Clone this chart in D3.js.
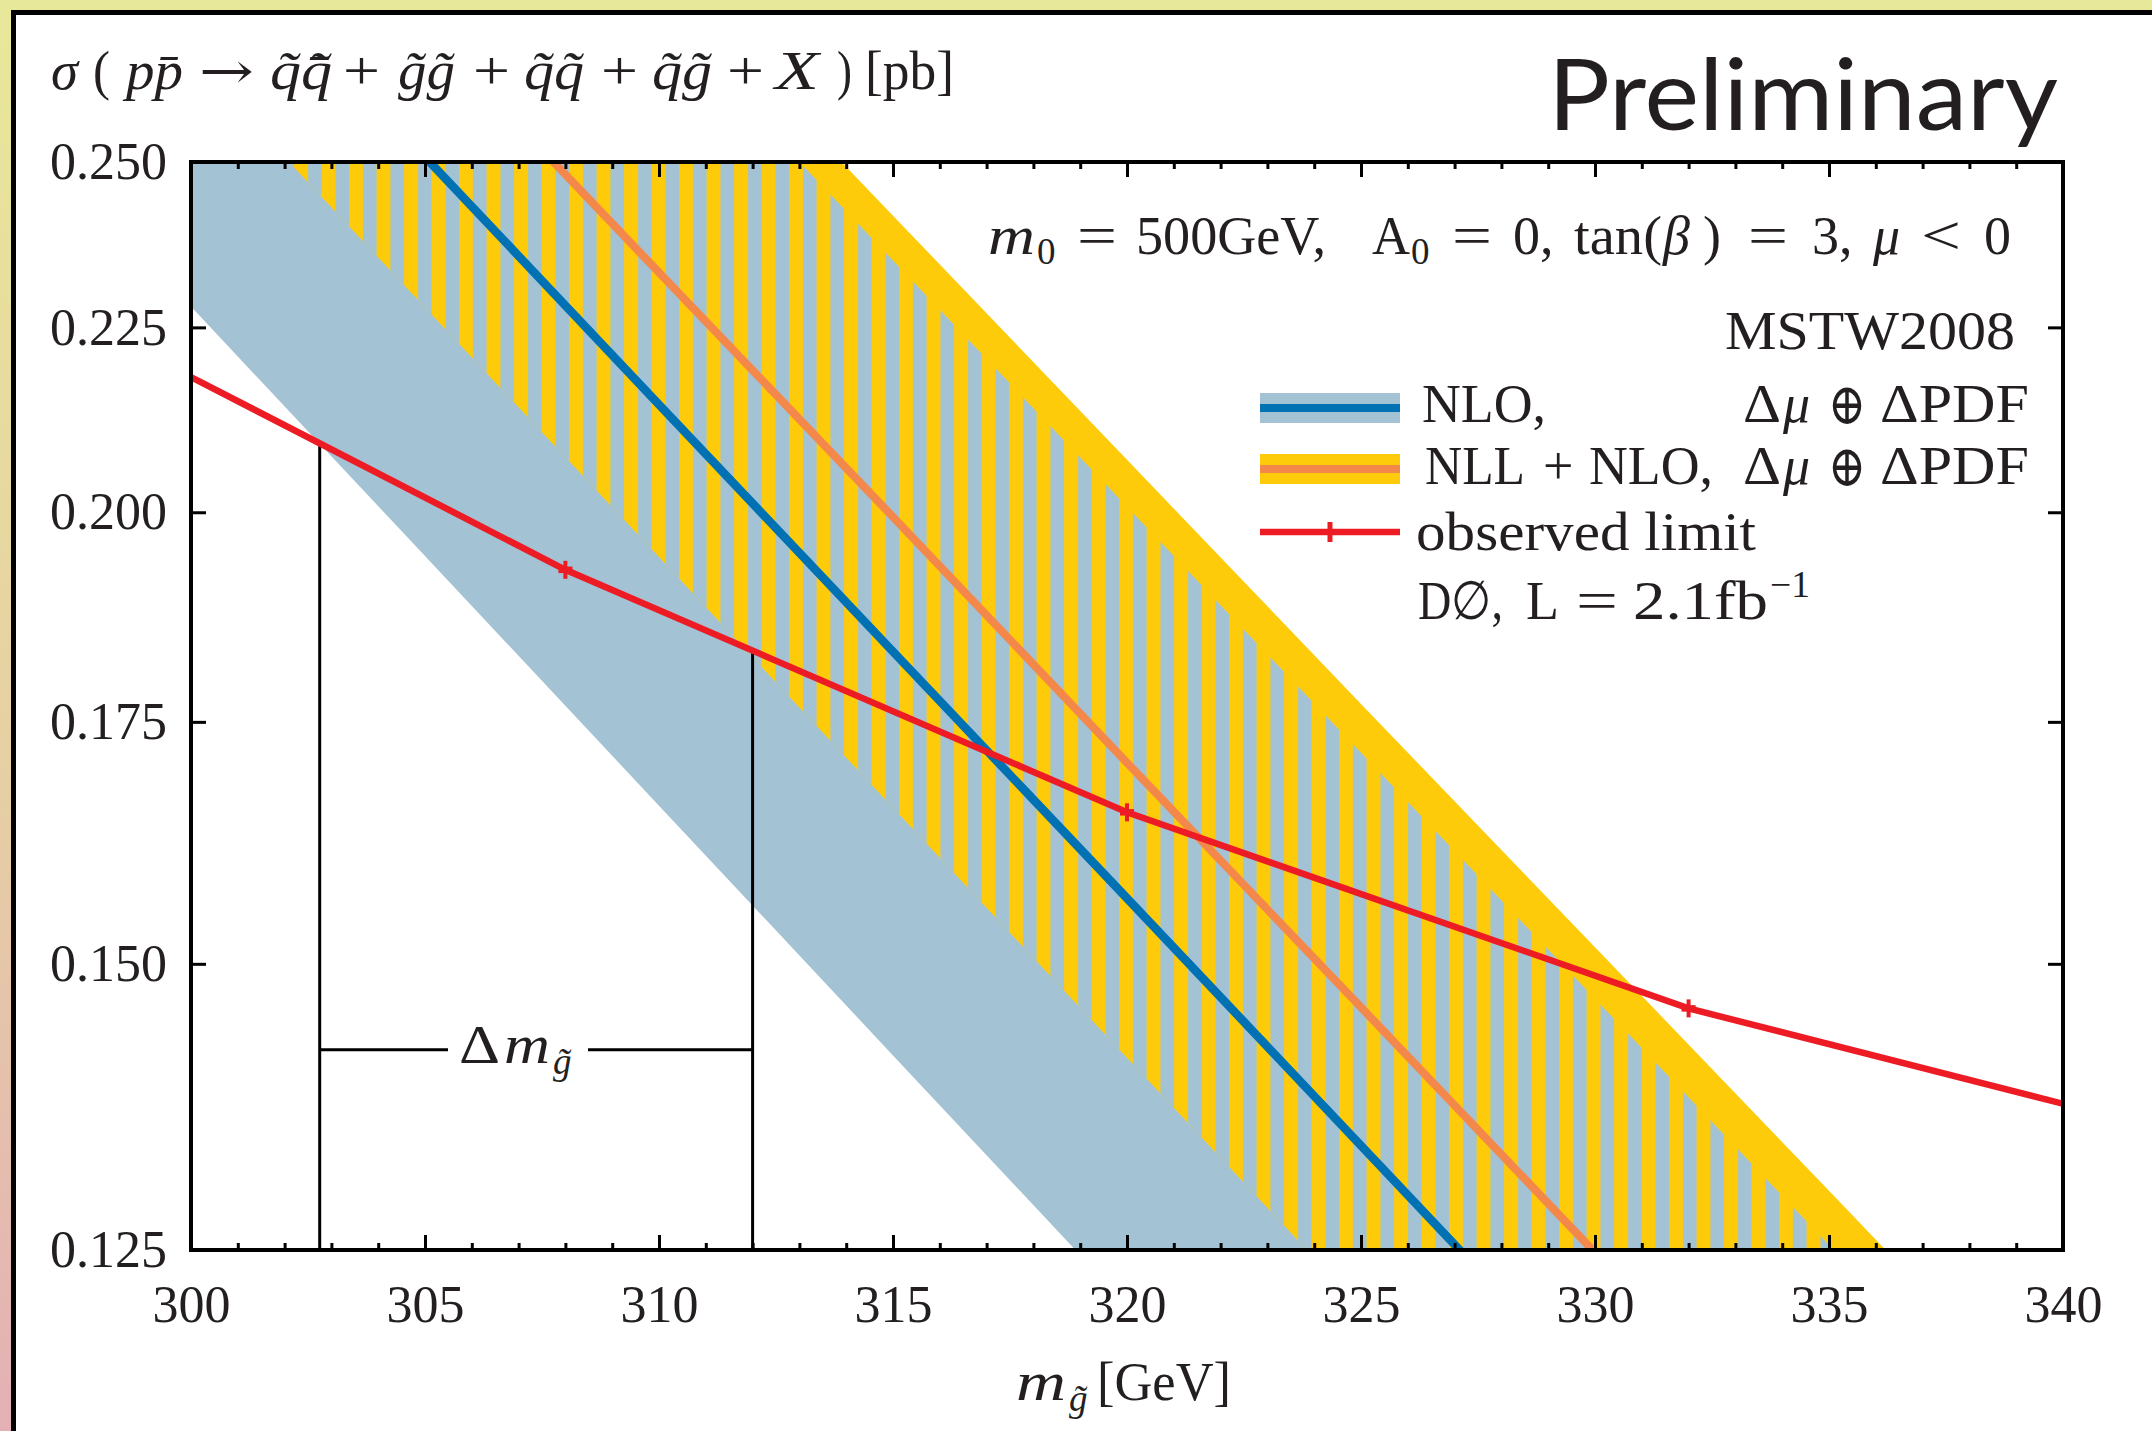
<!DOCTYPE html>
<html>
<head>
<meta charset="utf-8">
<script src="https://cdn.jsdelivr.net/npm/d3@7"></script>
<style>
  html, body { margin: 0; padding: 0; background: #fff; }
  svg { display: block; }
  text { font-family: "Liberation Serif", "DejaVu Serif", serif; fill: #231f20; }
</style>
</head>
<body>
<svg id="chart" width="2152" height="1431"></svg>
<script>
// ---------------- data ----------------
const masses      = [295, 300, 305, 310, 315, 320, 325, 330, 335, 340];
const nloLow      = [0.2673, 0.2280, 0.1945, 0.1659, 0.1415, 0.1207, 0.1029, 0.0878, 0.0749, 0.0639];
const nloCentral  = [0.3437, 0.2936, 0.2508, 0.2142, 0.1830, 0.1564, 0.1336, 0.1141, 0.0975, 0.0833];
const nloHigh     = [0.4397, 0.3759, 0.3213, 0.2747, 0.2348, 0.2007, 0.1716, 0.1467, 0.1254, 0.1072];
const nllLow      = [0.3135, 0.2673, 0.2279, 0.1944, 0.1657, 0.1413, 0.1205, 0.1027, 0.0876, 0.0747];
const nllCentral  = [0.3723, 0.3184, 0.2724, 0.2330, 0.1994, 0.1705, 0.1459, 0.1248, 0.1068, 0.0913];
const nllHigh     = [0.4498, 0.3851, 0.3297, 0.2822, 0.2416, 0.2068, 0.1770, 0.1516, 0.1298, 0.1111];

const limitMass   = [296, 308, 320, 332, 344];
const limitXsec   = [0.2318, 0.1928, 0.1652, 0.1458, 0.1331];

const deltaMass   = [302.75, 312.0];
const deltaTop    = [0.2090, 0.1831];
const deltaLevel  = 0.142;

const xMajorTicks = [300, 305, 310, 315, 320, 325, 330, 335, 340];
const xTickLabels = ["300", "305", "310", "315", "320", "325", "330", "335", "340"];
const xMinorTicks = d3.range(300, 341, 1);
const yTicks      = [0.125, 0.150, 0.175, 0.200, 0.225, 0.250];
const yTickLabels = ["0.125", "0.150", "0.175", "0.200", "0.225", "0.250"];

// ---------------- layout ----------------
const W = 2152, H = 1431;
const L = 191, R = 2063, T = 162, B = 1250;
const FS = 54;
const C = {
  nloBand: "#a3c2d3", nloLine: "#0072b4",
  nllBand: "#fecb0a", nllLine: "#f4874a",
  limit: "#ed1c24", ink: "#231f20"
};

const svg = d3.select("#chart");
const defs = svg.append("defs");

const grad = defs.append("linearGradient").attr("id", "frameGrad")
  .attr("x1", 0).attr("y1", 0).attr("x2", 0).attr("y2", 1);
grad.append("stop").attr("offset", "0%").attr("stop-color", "#e8e89a");
grad.append("stop").attr("offset", "55%").attr("stop-color", "#e6cfa4");
grad.append("stop").attr("offset", "100%").attr("stop-color", "#e4b0b5");

defs.append("clipPath").attr("id", "plotClip")
  .append("rect").attr("x", L).attr("y", T).attr("width", R - L).attr("height", B - T);

const pat = defs.append("pattern").attr("id", "stripes")
  .attr("patternUnits", "userSpaceOnUse")
  .attr("x", 211.6).attr("y", 0).attr("width", 27.5).attr("height", 100);
pat.append("rect").attr("width", 27.5).attr("height", 100).attr("fill", C.nloBand);
pat.append("rect").attr("width", 13.9).attr("height", 100).attr("fill", C.nllBand);

// slide frame
svg.append("rect").attr("width", W).attr("height", H).attr("fill", "#fff");
svg.append("rect").attr("x", 0).attr("y", 0).attr("width", W).attr("height", 10).attr("fill", "#e8e89a");
svg.append("rect").attr("x", 0).attr("y", 0).attr("width", 11).attr("height", H).attr("fill", "url(#frameGrad)");
svg.append("rect").attr("x", 11).attr("y", 10).attr("width", W - 11).attr("height", 5).attr("fill", "#000");
svg.append("rect").attr("x", 11).attr("y", 10).attr("width", 5).attr("height", H - 10).attr("fill", "#000");

// scales
const x = d3.scaleLinear().domain([300, 340]).range([L, R]);
const y = d3.scaleLog().domain([0.125, 0.25]).range([B, T]);

const rows = masses.map((m, i) => ({
  m, nloLow: nloLow[i], nloCentral: nloCentral[i], nloHigh: nloHigh[i],
  nllLow: nllLow[i], nllCentral: nllCentral[i], nllHigh: nllHigh[i]
}));

const plot = svg.append("g").attr("clip-path", "url(#plotClip)");

const area = (lo, hi) => d3.area().x(d => x(d.m)).y0(d => y(d[lo])).y1(d => y(d[hi]));
const line = key => d3.line().x(d => x(d.m)).y(d => y(d[key]));

plot.append("path").datum(rows).attr("d", area("nloLow", "nloHigh")).attr("fill", C.nloBand);
plot.append("path").datum(rows).attr("d", area("nllLow", "nllHigh")).attr("fill", C.nllBand);
// overlap of both bands: vertical stripes
plot.append("path").datum(rows).attr("d", area("nllLow", "nloHigh")).attr("fill", "url(#stripes)");

plot.append("path").datum(rows).attr("d", line("nloCentral"))
  .attr("fill", "none").attr("stroke", C.nloLine).attr("stroke-width", 8.5);
plot.append("path").datum(rows).attr("d", line("nllCentral"))
  .attr("fill", "none").attr("stroke", C.nllLine).attr("stroke-width", 8);

// ---------- text helper ----------
function txt(parent, t, px, py, o = {}) {
  const e = parent.append("text").attr("x", px).attr("y", py)
    .attr("font-size", o.size || FS).text(t);
  if (o.italic) e.attr("font-style", "italic");
  if (o.anchor) e.attr("text-anchor", o.anchor);
  if (o.w) e.attr("textLength", o.w).attr("lengthAdjust", "spacingAndGlyphs");
  if (o.font) e.style("font-family", o.font);
  if (o.fill) e.attr("fill", o.fill);
  return e;
}

// delta m construction
deltaMass.forEach((m, i) => {
  plot.append("line").attr("x1", x(m)).attr("x2", x(m))
    .attr("y1", y(0.125)).attr("y2", y(deltaTop[i]))
    .attr("stroke", "#000").attr("stroke-width", 3);
});
const gapL = 448, gapR = 588;
plot.append("line").attr("x1", x(deltaMass[0])).attr("x2", gapL)
  .attr("y1", y(deltaLevel)).attr("y2", y(deltaLevel)).attr("stroke", "#000").attr("stroke-width", 3);
plot.append("line").attr("x1", gapR).attr("x2", x(deltaMass[1]))
  .attr("y1", y(deltaLevel)).attr("y2", y(deltaLevel)).attr("stroke", "#000").attr("stroke-width", 3);

const yl = y(deltaLevel);
txt(svg, "Δ", 459, yl + 13, { w: 41 });
txt(svg, "m", 504, yl + 13, { italic: true, w: 46 });
txt(svg, "g\u0303", 553, yl + 24, { italic: true, size: 37 });

// observed limit
const lim = limitMass.map((m, i) => ({ m, v: limitXsec[i] }));
plot.append("path").datum(lim)
  .attr("d", d3.line().x(d => x(d.m)).y(d => y(d.v)))
  .attr("fill", "none").attr("stroke", C.limit).attr("stroke-width", 6.5);
const mk = plot.selectAll("g.mk").data(lim).join("g")
  .attr("transform", d => `translate(${x(d.m)},${y(d.v)})`);
mk.append("line").attr("x1", 0).attr("x2", 0).attr("y1", -9).attr("y2", 9)
  .attr("stroke", C.limit).attr("stroke-width", 4);
mk.append("line").attr("x1", -7).attr("x2", 7).attr("y1", 0).attr("y2", 0)
  .attr("stroke", C.limit).attr("stroke-width", 6.5);

// axes
function styleAxis(g) {
  g.select(".domain").remove();
  g.selectAll(".tick line").attr("stroke", "#000").attr("stroke-width", 3);
  g.selectAll(".tick text").attr("font-size", 52).attr("fill", C.ink)
    .attr("font-family", "Liberation Serif, DejaVu Serif, serif");
}
svg.append("g").attr("transform", `translate(0,${B})`)
  .call(d3.axisBottom(x).tickValues(xMinorTicks).tickSize(-7).tickFormat(""))
  .call(styleAxis);
svg.append("g").attr("transform", `translate(0,${T})`)
  .call(d3.axisTop(x).tickValues(xMinorTicks).tickSize(-7).tickFormat(""))
  .call(styleAxis);
svg.append("g").attr("transform", `translate(0,${B})`)
  .call(d3.axisBottom(x).tickValues(xMajorTicks).tickSize(-15).tickPadding(35)
    .tickFormat((d, i) => xTickLabels[i]))
  .call(styleAxis);
svg.append("g").attr("transform", `translate(0,${T})`)
  .call(d3.axisTop(x).tickValues(xMajorTicks).tickSize(-15).tickFormat(""))
  .call(styleAxis);
svg.append("g").attr("transform", `translate(${L},0)`)
  .call(d3.axisLeft(y).tickValues(yTicks).tickSize(-15).tickPadding(24)
    .tickFormat((d, i) => yTickLabels[i]))
  .call(styleAxis);
svg.append("g").attr("transform", `translate(${R},0)`)
  .call(d3.axisRight(y).tickValues(yTicks).tickSize(-15).tickFormat(""))
  .call(styleAxis);

svg.append("rect").attr("x", L).attr("y", T).attr("width", R - L).attr("height", B - T)
  .attr("fill", "none").attr("stroke", "#000").attr("stroke-width", 4);

// y-axis title (top left)
const ty = 89;
txt(svg, "σ", 51, ty, { italic: true, w: 27 });
txt(svg, "(", 93, ty, { w: 17 });
txt(svg, "pp\u0304", 126, ty, { italic: true, w: 57 });
txt(svg, "→", 199, ty - 1, { size: 50, w: 55, font: "'DejaVu Serif', serif" });
txt(svg, "q\u0303q\u0303\u0304", 270, ty, { italic: true, w: 62 });
txt(svg, "+", 343, ty, { w: 37 });
txt(svg, "g\u0303g\u0303", 398, ty, { italic: true, w: 57 });
txt(svg, "+", 473, ty, { w: 37 });
txt(svg, "q\u0303q\u0303", 524, ty, { italic: true, w: 60 });
txt(svg, "+", 601, ty, { w: 37 });
txt(svg, "q\u0303g\u0303", 652, ty, { italic: true, w: 60 });
txt(svg, "+", 727, ty, { w: 37 });
txt(svg, "X", 775, ty, { italic: true, w: 44 });
txt(svg, ")", 837, ty, { w: 15 });
txt(svg, "[pb]", 865, ty, { w: 89 });

// x-axis title
txt(svg, "m", 1016, 1400, { italic: true, w: 50 });
txt(svg, "g\u0303", 1069, 1411, { italic: true, size: 37 });
txt(svg, "[GeV]", 1097, 1400, { w: 134 });

// Preliminary
txt(svg, "Preliminary", 2058, 130, { anchor: "end", size: 98, w: 510,
  font: "Lato, 'Open Sans', sans-serif", fill: "#000" });

// parameter text
const py = 254;
txt(svg, "m", 988, py, { italic: true, w: 47 });
txt(svg, "0", 1037, py + 10, { size: 37 });
txt(svg, "=", 1077, py, { w: 40 });
txt(svg, "500GeV,", 1136, py, { w: 190 });
txt(svg, "A", 1372, py, { w: 38 });
txt(svg, "0", 1411, py + 10, { size: 37 });
txt(svg, "=", 1452, py, { w: 40 });
txt(svg, "0,", 1513, py);
txt(svg, "tan(", 1574, py, { w: 88 });
txt(svg, "β", 1663, py, { italic: true });
txt(svg, ")", 1703, py, { w: 18 });
txt(svg, "=", 1748, py, { w: 40 });
txt(svg, "3,", 1812, py);
txt(svg, "μ", 1873, py, { italic: true });
txt(svg, "<", 1921, py, { w: 40 });
txt(svg, "0", 2011, py, { anchor: "end" });

txt(svg, "MSTW2008", 1725, 349, { w: 290 });

// legend
const lg = svg.append("g");
lg.append("rect").attr("x", 1260).attr("y", 393).attr("width", 140).attr("height", 30).attr("fill", C.nloBand);
lg.append("line").attr("x1", 1260).attr("x2", 1400).attr("y1", 408).attr("y2", 408).attr("stroke", C.nloLine).attr("stroke-width", 8);
lg.append("rect").attr("x", 1260).attr("y", 454).attr("width", 140).attr("height", 30).attr("fill", C.nllBand);
lg.append("line").attr("x1", 1260).attr("x2", 1400).attr("y1", 469).attr("y2", 469).attr("stroke", C.nllLine).attr("stroke-width", 8);
lg.append("line").attr("x1", 1260).attr("x2", 1400).attr("y1", 532).attr("y2", 532).attr("stroke", C.limit).attr("stroke-width", 6.5);
lg.append("line").attr("x1", 1330).attr("x2", 1330).attr("y1", 522).attr("y2", 542).attr("stroke", C.limit).attr("stroke-width", 5);

function pdf(py) {
  txt(lg, "Δ", 1743, py, { w: 38 });
  txt(lg, "μ", 1783, py, { italic: true });
  txt(lg, "⊕", 1828, py + 2, { size: 58, w: 38, font: "'DejaVu Serif', serif" });
  txt(lg, "ΔPDF", 1880, py, { w: 149 });
}
txt(lg, "NLO,", 1422, 422, { w: 124 });
pdf(422);
txt(lg, "NLL", 1425, 484, { w: 100 });
txt(lg, "+", 1543, 484);
txt(lg, "NLO,", 1589, 484, { w: 124 });
pdf(484);
txt(lg, "observed limit", 1416, 550, { w: 340 });
txt(lg, "D∅,", 1418, 619, { w: 85 });
txt(lg, "L", 1526, 619);
txt(lg, "=", 1576, 619, { w: 42 });
txt(lg, "2.1fb", 1633, 619, { w: 135 });
txt(lg, "−1", 1770, 597, { size: 37, w: 40 });
</script>
</body>
</html>
